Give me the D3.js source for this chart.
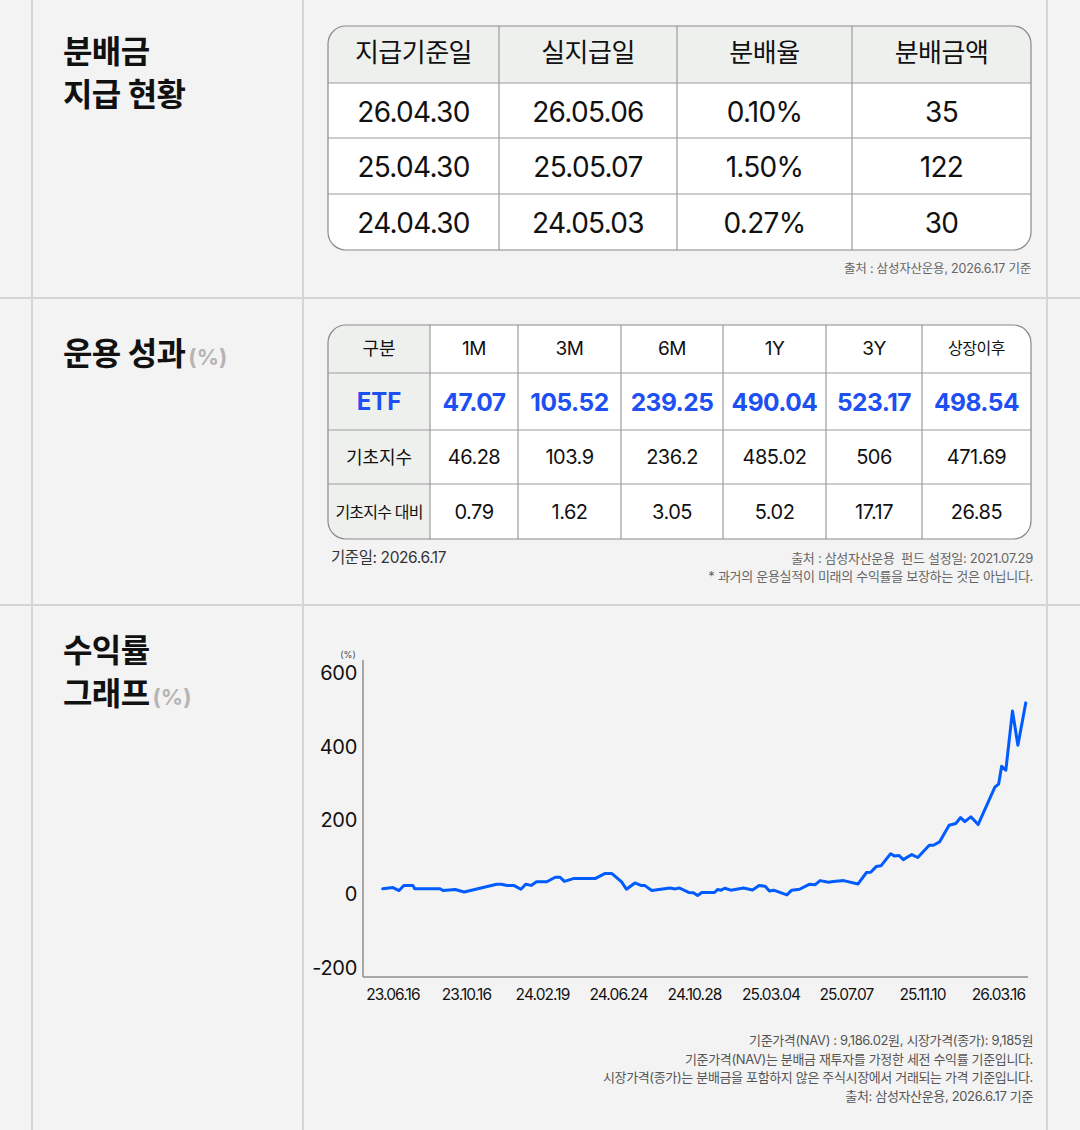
<!DOCTYPE html>
<html>
<head>
<meta charset="utf-8">
<script src="https://cdn.jsdelivr.net/npm/d3@7"></script>
<style>
  body { margin: 0; background: #f3f3f3; }
  svg { display: block; }
  text { font-family: "Inter", "Noto Sans CJK KR", sans-serif; }
</style>
</head>
<body>
<script>
// 분배금 지급 현황
const payHeader = ['지급기준일', '실지급일', '분배율', '분배금액'];
const payBaseDate = ['26.04.30', '25.04.30', '24.04.30'];
const payDate = ['26.05.06', '25.05.07', '24.05.03'];
const payRate = ['0.10%', '1.50%', '0.27%'];
const payAmount = ['35', '122', '30'];

// 운용 성과 (%)
const perfCorner = '구분';
const perfPeriods = ['1M', '3M', '6M', '1Y', '3Y', '상장이후'];
const perfRows = ['ETF', '기초지수', '기초지수 대비'];
const perfEtf = [47.07, 105.52, 239.25, 490.04, 523.17, 498.54];
const perfIndex = [46.28, 103.9, 236.2, 485.02, 506, 471.69];
const perfDiff = [0.79, 1.62, 3.05, 5.02, 17.17, 26.85];

// 수익률 그래프 (%)
const retDates = [
  '23.05.31','23.06.17','23.06.27','23.07.05','23.07.20','23.07.23','23.09.03','23.09.08','23.09.28','23.10.13',
  '23.12.06','23.12.14','23.12.23','24.01.04','24.01.15','24.01.23','24.02.01','24.02.10','24.02.27','24.03.12',
  '24.03.20','24.03.27','24.04.11','24.05.17','24.06.02','24.06.14','24.06.30','24.07.08','24.07.22','24.08.01',
  '24.08.07','24.08.19','24.09.18','24.09.27','24.10.04','24.10.19','24.10.27','24.11.03','24.11.10','24.12.01',
  '24.12.06','24.12.12','24.12.18','24.12.28','25.01.18','25.02.02','25.02.13','25.02.23','25.03.02','25.03.09',
  '25.03.31','25.04.08','25.04.21','25.05.07','25.05.17','25.05.25','25.06.08','25.06.16','25.07.03','25.07.27',
  '25.08.10','25.08.17','25.08.26','25.09.03','25.09.19','25.09.25','25.10.03','25.10.10','25.10.24','25.11.03',
  '25.11.22','25.11.29','25.12.09','25.12.25','26.01.05','26.01.13','26.01.20','26.01.30','26.02.11','26.03.11',
  '26.03.17','26.03.22','26.03.29','26.04.09','26.04.18','26.05.01'
];
const retValues = [
  15, 18, 10, 24, 24, 15, 15, 10, 12.7, 6,
  27, 27, 23.5, 23.5, 13.5, 27, 24, 34, 34, 46,
  46, 35, 42.5, 42.5, 56, 56, 33.5, 13.5, 30.7, 24,
  24, 10, 17, 14.5, 17, 5, 4, -3.6, 4.6, 4.6,
  12.7, 11, 16.3, 11, 17, 11.7, 23.5, 21.7, 9, 11,
  -1.8, 11, 13.5, 27, 26, 37, 32.6, 34.4, 37, 28,
  59, 59.7, 75, 77, 110, 104, 105, 94, 107.6, 99.6,
  133, 133, 142, 187, 192, 208, 197, 210, 189, 291,
  298.5, 347, 336.5, 497, 404, 519
];
const xTickLabels = ['23.06.16', '23.10.16', '24.02.19', '24.06.24', '24.10.28', '25.03.04', '25.07.07', '25.11.10', '26.03.16'];
const yTicks = [-200, 0, 200, 400, 600];

const navNotes = [
  '기준가격(NAV) : 9,186.02원, 시장가격(종가): 9,185원',
  '기준가격(NAV)는 분배금 재투자를 가정한 세전 수익률 기준입니다.',
  '시장가격(종가)는 분배금을 포함하지 않은 주식시장에서 거래되는 가격 기준입니다.',
  '출처: 삼성자산운용, 2026.6.17 기준'
];

const W = 1080, H = 1130;
const svg = d3.select('body').append('svg')
  .attr('width', W)
  .attr('height', H);

svg.append('rect').attr('width', W).attr('height', H).attr('fill', '#f3f3f3');

// page grid
const grid = svg.append('g').attr('stroke', '#d5d5d5').attr('stroke-width', 2);
[32, 303, 1047].forEach(x => grid.append('line').attr('x1', x).attr('x2', x).attr('y1', 0).attr('y2', H));
[298, 605].forEach(y => grid.append('line').attr('x1', 0).attr('x2', W).attr('y1', y).attr('y2', y));

// section titles
function title(lines, y0, pct) {
  const t = svg.append('g');
  lines.forEach((l, i) => {
    const tx = t.append('text')
      .attr('x', 63)
      .attr('y', y0 + i * 42.5)
      .attr('font-family', '"Noto Sans CJK KR", sans-serif')
      .attr('font-size', 32)
      .attr('font-weight', 700)
      .attr('letter-spacing', -0.6)
      .attr('fill', '#111')
      .text(l);
    if (pct && i === lines.length - 1) {
      tx.append('tspan')
        .attr('dx', 3)
        .attr('font-size', 22)
        .attr('fill', '#b5b5b5')
        .attr('letter-spacing', 0)
        .text('(%)');
    }
  });
}
title(['분배금', '지급 현황'], 63, false);
title(['운용 성과'], 365, true);
title(['수익률', '그래프'], 662, true);

// generic table
let clipId = 0;
function drawTable(x0, y0, colW, rowH, cells, shade, radius) {
  const colX = [0], rowY = [0];
  colW.forEach(w => colX.push(colX[colX.length - 1] + w));
  rowH.forEach(h => rowY.push(rowY[rowY.length - 1] + h));
  const tw = colX[colX.length - 1], th = rowY[rowY.length - 1];

  const g = svg.append('g').attr('transform', `translate(${x0},${y0})`);
  const id = 'clip' + (clipId++);
  g.append('clipPath').attr('id', id)
    .append('rect').attr('width', tw).attr('height', th).attr('rx', radius);

  const body = g.append('g').attr('clip-path', `url(#${id})`);
  const flat = [];
  cells.forEach((row, r) => row.forEach((c, ci) => flat.push({ r, ci, ...c })));

  body.selectAll('rect.cell').data(flat).join('rect')
    .attr('class', 'cell')
    .attr('x', d => colX[d.ci]).attr('y', d => rowY[d.r])
    .attr('width', d => colW[d.ci]).attr('height', d => rowH[d.r])
    .attr('fill', d => shade(d.r, d.ci) ? '#eef0ee' : '#fff');

  body.selectAll('line.v').data(colX.slice(1, -1)).join('line')
    .attr('x1', d => d).attr('x2', d => d).attr('y1', 0).attr('y2', th)
    .attr('stroke', '#9c9c9c').attr('stroke-width', 1.2);
  body.selectAll('line.h').data(rowY.slice(1, -1)).join('line')
    .attr('y1', d => d).attr('y2', d => d).attr('x1', 0).attr('x2', tw)
    .attr('stroke', '#9c9c9c').attr('stroke-width', 1.2);

  g.append('rect').attr('width', tw).attr('height', th).attr('rx', radius)
    .attr('fill', 'none').attr('stroke', '#8a8a8a').attr('stroke-width', 1.2);

  g.selectAll('text.cell').data(flat).join('text')
    .attr('class', 'cell')
    .attr('x', d => colX[d.ci] + colW[d.ci] / 2)
    .attr('y', d => rowY[d.r] + rowH[d.r] / 2 + (d.dy || 0))
    .attr('text-anchor', 'middle')
    .attr('dominant-baseline', 'central')
    .attr('font-size', d => d.size)
    .attr('font-weight', d => d.bold ? 700 : 400)
    .attr('letter-spacing', d => d.ls || 0)
    .attr('fill', d => d.color || '#111')
    .text(d => d.text);
}

// table 1
const t1 = [payHeader.map(h => ({ text: h, size: 26, ls: -0.5, dy: -2 }))];
payBaseDate.forEach((d, i) => {
  t1.push([payBaseDate[i], payDate[i], payRate[i], payAmount[i]].map(v => ({ text: v, size: 28, ls: -0.7, dy: 1 })));
});
drawTable(328, 26, [171, 178, 175, 179], [57, 55, 56, 56], t1, (r) => r === 0, 18);

svg.append('text')
  .attr('x', 1031).attr('y', 273).attr('text-anchor', 'end')
  .attr('font-size', 12.5).attr('fill', '#666').attr('letter-spacing', -0.2)
  .text('출처 : 삼성자산운용, 2026.6.17 기준');

// table 2
const t2 = [[{ text: perfCorner, size: 18, dy: -1 }].concat(perfPeriods.map(p => ({ text: p, size: p.length > 2 ? 16 : 19, ls: -0.5, dy: -1 })))];
const perfSeries = [perfEtf, perfIndex, perfDiff];
perfRows.forEach((name, r) => {
  const etf = r === 0;
  const head = { text: name, size: etf ? 24 : (name.length > 4 ? 16 : 18), bold: etf, color: etf ? '#1d4ff2' : '#111', ls: name.length > 4 ? -0.8 : 0 };
  t2.push([head].concat(perfSeries[r].map(v => ({
    text: String(v), size: etf ? 24.5 : 20, bold: etf, color: etf ? '#1d4ff2' : '#111', ls: -0.5
  }))));
});
drawTable(328, 325, [102, 88, 103, 102, 103, 96, 109], [48, 57, 54, 55], t2, (r, c) => c === 0, 18);

svg.append('text')
  .attr('x', 331).attr('y', 563)
  .attr('font-size', 15.5).attr('fill', '#333').attr('letter-spacing', -0.4)
  .text('기준일: 2026.6.17');
svg.append('text')
  .attr('x', 1033).attr('y', 563).attr('text-anchor', 'end')
  .attr('font-size', 13).attr('fill', '#666').attr('letter-spacing', -0.3)
  .style('white-space', 'pre')
  .text('출처 : 삼성자산운용  펀드 설정일: 2021.07.29');
svg.append('text')
  .attr('x', 1033).attr('y', 581).attr('text-anchor', 'end')
  .attr('font-size', 13).attr('fill', '#666').attr('letter-spacing', -0.3)
  .text('* 과거의 운용실적이 미래의 수익률을 보장하는 것은 아닙니다.');

// return chart
const parse = d3.timeParse('%y.%m.%d');
const series = retDates.map((d, i) => ({ date: parse(d), value: retValues[i] }));
const tickDates = xTickLabels.map(parse);

const frame = { left: 363, right: 1028, top: 660, bottom: 977 };
const x = d3.scaleTime()
  .domain([tickDates[0], tickDates[tickDates.length - 1]])
  .range([392.4, 998]);
const y = d3.scaleLinear()
  .domain([-200, 600])
  .range([968, 673]);

const chart = svg.append('g');

chart.append('text')
  .attr('x', 348).attr('y', 658).attr('text-anchor', 'middle')
  .attr('font-size', 9).attr('fill', '#444')
  .text('(%)');

chart.append('g')
  .attr('transform', `translate(${frame.left},0)`)
  .call(d3.axisLeft(y).tickValues(yTicks).tickFormat(d => String(d)).tickSize(0).tickPadding(6))
  .call(g => g.select('.domain').remove())
  .call(g => g.selectAll('text')
    .attr('font-family', '"Inter", sans-serif')
    .attr('font-size', 20).attr('fill', '#111').attr('letter-spacing', -0.3));

chart.append('g')
  .attr('transform', `translate(0,${frame.bottom})`)
  .call(d3.axisBottom(x).tickValues(tickDates).tickFormat(d3.timeFormat('%y.%m.%d')).tickSize(0).tickPadding(12))
  .call(g => g.select('.domain').remove())
  .call(g => g.selectAll('text')
    .attr('font-family', '"Inter", sans-serif')
    .attr('font-size', 15.5).attr('fill', '#111').attr('letter-spacing', -0.9));

chart.append('line')
  .attr('x1', frame.left).attr('x2', frame.left).attr('y1', frame.top).attr('y2', frame.bottom)
  .attr('stroke', '#8f8f8f').attr('stroke-width', 1.5);
chart.append('line')
  .attr('x1', frame.left).attr('x2', frame.right).attr('y1', frame.bottom).attr('y2', frame.bottom)
  .attr('stroke', '#8f8f8f').attr('stroke-width', 1.5);

const line = d3.line()
  .x(d => x(d.date))
  .y(d => y(d.value));

chart.append('path')
  .attr('d', line(series))
  .attr('fill', 'none')
  .attr('stroke', '#005cff')
  .attr('stroke-width', 3)
  .attr('stroke-linejoin', 'round')
  .attr('stroke-linecap', 'round');

// notes under chart
svg.append('g').selectAll('text').data(navNotes).join('text')
  .attr('x', 1033)
  .attr('y', (d, i) => 1045 + i * 18.5)
  .attr('text-anchor', 'end')
  .attr('font-size', 13)
  .attr('fill', '#555')
  .attr('letter-spacing', -0.35)
  .text(d => d);
</script>
</body>
</html>
